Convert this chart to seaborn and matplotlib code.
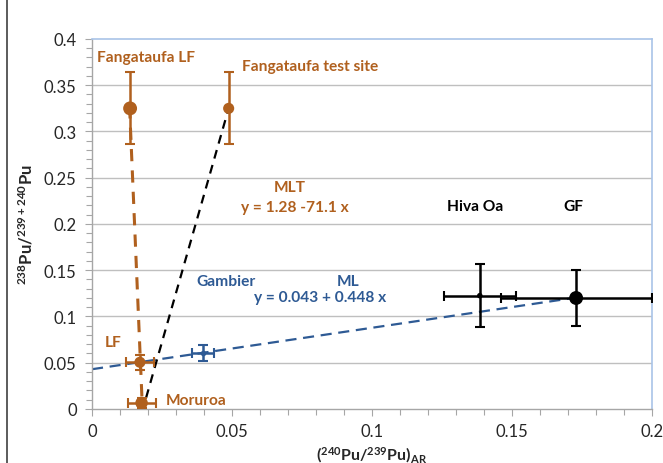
import numpy as np
import pandas as pd
import matplotlib
matplotlib.use("Agg")
import matplotlib.pyplot as plt
import seaborn as sns
from matplotlib.lines import Line2D
from matplotlib.ticker import MultipleLocator

# ---- data ----
names = ["Fangataufa LF", "Fangataufa test site", "LF", "Moruroa", "Gambier", "Hiva Oa", "GF"]
x_vals = [0.0136, 0.0488, 0.0171, 0.0177, 0.0396, 0.1385, 0.1729]
y_vals = [0.325, 0.325, 0.0505, 0.0065, 0.0605, 0.1225, 0.120]
x_errs = [0.0, 0.0, 0.005, 0.005, 0.004, 0.0128, 0.027]
y_errs = [0.039, 0.039, 0.008, 0.005, 0.0085, 0.034, 0.030]
groups = ["brown", "brown", "brown", "brown", "blue", "black", "black"]
msizes = [10, 8, 8, 9, 4, 4, 10]

# fit lines
mlt_coef = [1.28, -71.1]      # y = a + b x
mlt_x = [0.0134, 0.0180]
ml_coef = [0.043, 0.448]
ml_x = [0.0, 0.1729]
mix_x = [0.0193, 0.0488]
mix_y = [0.012, 0.325]

x_ticks = [0, 0.05, 0.1, 0.15, 0.2]
y_ticks = [0, 0.05, 0.1, 0.15, 0.2, 0.25, 0.3, 0.35, 0.4]

BROWN = "#B0601E"
BLUE = "#2E5A94"
BLACK = "#000000"
cmap = {"brown": BROWN, "blue": BLUE, "black": BLACK}

sns.set_style("white")
plt.rcParams["font.family"] = ["Lato", "DejaVu Sans"]
plt.rcParams["mathtext.fontset"] = "custom"
plt.rcParams["mathtext.rm"] = "Lato:bold"
plt.rcParams["mathtext.bf"] = "Lato:bold"
plt.rcParams["mathtext.it"] = "Lato:bold"

fig = plt.figure(figsize=(6.63, 4.64), dpi=100)
ax = fig.add_axes([0.1388, 0.1164, 0.8446, 0.7974])

# grid
for yt in y_ticks[1:-1]:
    ax.axhline(yt, color="#BFBFBF", lw=1.0, zorder=0)

# lines
lx = np.array(mlt_x)
sns.lineplot(x=lx, y=mlt_coef[0] + mlt_coef[1] * lx, ax=ax, color=BROWN, lw=2.2,
             linestyle=(0, (4, 3)), zorder=2)
lx2 = np.array(ml_x)
sns.lineplot(x=lx2, y=ml_coef[0] + ml_coef[1] * lx2, ax=ax, color=BLUE, lw=1.6,
             linestyle=(0, (5, 3)), zorder=2)
sns.lineplot(x=mix_x, y=mix_y, ax=ax, color=BLACK, lw=1.6,
             linestyle=(0, (4, 3)), zorder=2)

# error bars and points
for xi, yi, xe, ye, g, ms in zip(x_vals, y_vals, x_errs, y_errs, groups, msizes):
    c = cmap[g]
    ax.errorbar(xi, yi, xerr=xe if xe > 0 else None, yerr=ye, fmt="none",
                ecolor=c, elinewidth=1.8, capsize=3.5, capthick=1.5, zorder=3)
df = pd.DataFrame({"x": x_vals, "y": y_vals, "g": groups, "s": msizes})
for (g, sub) in df.groupby("g"):
    sns.scatterplot(data=sub, x="x", y="y", ax=ax, color=cmap[g], s=sub["s"].values ** 2,
                    edgecolor=cmap[g], linewidth=0, zorder=4, legend=False)

# annotations
fs = 11.2
ax.text(0.0193, 0.380, "Fangataufa LF", color=BROWN, fontsize=fs, fontweight="bold", ha="center", va="center")
ax.text(0.0536, 0.371, "Fangataufa test site", color=BROWN, fontsize=fs, fontweight="bold", ha="left", va="center")
ax.text(0.0705, 0.240, "MLT", color=BROWN, fontsize=fs, fontweight="bold", ha="center", va="center")
ax.text(0.0725, 0.218, "y = 1.28 -71.1 x", color=BROWN, fontsize=fs, fontweight="bold", ha="center", va="center")
ax.text(0.137, 0.2195, "Hiva Oa", color=BLACK, fontsize=fs, fontweight="bold", ha="center", va="center")
ax.text(0.172, 0.2195, "GF", color=BLACK, fontsize=fs, fontweight="bold", ha="center", va="center")
ax.text(0.048, 0.138, "Gambier", color=BLUE, fontsize=fs, fontweight="bold", ha="center", va="center")
ax.text(0.0915, 0.138, "ML", color=BLUE, fontsize=fs, fontweight="bold", ha="center", va="center")
ax.text(0.0815, 0.121, "y = 0.043 + 0.448 x", color=BLUE, fontsize=fs, fontweight="bold", ha="center", va="center")
ax.text(0.0075, 0.072, "LF", color=BROWN, fontsize=fs, fontweight="bold", ha="center", va="center")
ax.text(0.0262, 0.010, "Moruroa", color=BROWN, fontsize=fs, fontweight="bold", ha="left", va="center")

# axes
ax.set_xlim(0, 0.2)
ax.set_ylim(0, 0.4)
ax.set_xticks(x_ticks)
ax.set_xticklabels(["0", "0.05", "0.1", "0.15", "0.2"])
ax.set_yticks(y_ticks)
ax.set_yticklabels(["0", "0.05", "0.1", "0.15", "0.2", "0.25", "0.3", "0.35", "0.4"])
ax.xaxis.set_minor_locator(MultipleLocator(0.01))
ax.yaxis.set_minor_locator(MultipleLocator(0.01))
ax.tick_params(axis="both", which="major", direction="out", length=5, width=0.8,
               color="#A6A6A6", labelsize=12, labelcolor="#262626", pad=6)
ax.tick_params(axis="x", which="major", pad=5)
ax.tick_params(axis="both", which="minor", direction="out", length=4, width=0.8, color="#A6A6A6")
ax.tick_params(bottom=True, left=True, which="both")
for side in ["left", "bottom"]:
    ax.spines[side].set_color("#A6A6A6")
    ax.spines[side].set_linewidth(1.0)
for side in ["top", "right"]:
    ax.spines[side].set_color("#A9C4E8")
    ax.spines[side].set_linewidth(1.2)

ax.set_xlabel(r"($^{240}$Pu/$^{239}$Pu)$_{AR}$", fontsize=11.5, fontweight="bold")
ax.xaxis.set_label_coords(0.499, -0.095)
ax.set_ylabel(r"$^{238}$Pu/$^{239+240}$Pu", fontsize=12, fontweight="bold", labelpad=6)

# figure frame line at left
fig.add_artist(Line2D([0.0106, 0.0106], [0.0, 1.0], transform=fig.transFigure, color="#404040", lw=1.2))

fig.savefig("out.png", dpi=100)
